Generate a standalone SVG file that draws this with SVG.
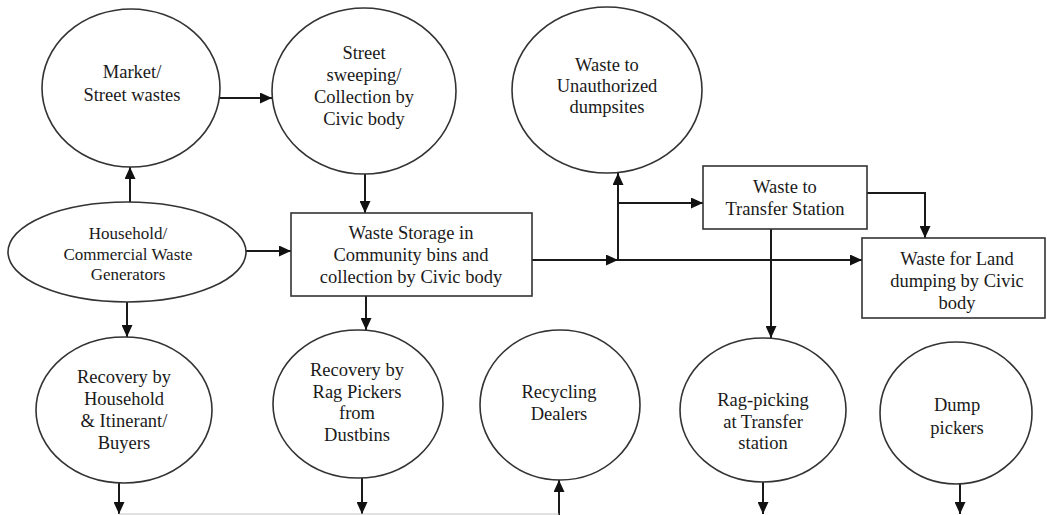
<svg xmlns="http://www.w3.org/2000/svg" width="1047" height="515" viewBox="0 0 1047 515">
<style>
.n{fill:#fff;stroke:#333;stroke-width:1.6}
.t{font-family:"Liberation Serif","Times New Roman","DejaVu Serif",serif;font-size:18.5px;fill:#1a1a1a;text-anchor:middle}
.s{font-size:17px}
.c{fill:none;stroke:#1a1a1a;stroke-width:2}
</style>
<defs>
<marker id="ah" viewBox="0 0 12 11" refX="12" refY="5.5" markerWidth="12" markerHeight="11" markerUnits="userSpaceOnUse" orient="auto">
<path d="M0,0 L12,5.5 L0,11 z" fill="#111"/>
</marker>
</defs>
<rect width="1047" height="515" fill="#fff"/>
<g id="connectors">
<line class="c" x1="220" y1="98" x2="272" y2="98" marker-end="url(#ah)"/>
<line class="c" x1="365" y1="174" x2="365" y2="213" marker-end="url(#ah)"/>
<line class="c" x1="130" y1="202" x2="130" y2="167" marker-end="url(#ah)"/>
<line class="c" x1="246" y1="251" x2="291" y2="251" marker-end="url(#ah)"/>
<line class="c" x1="127" y1="302" x2="127" y2="337" marker-end="url(#ah)"/>
<line class="c" x1="366" y1="296" x2="366" y2="330" marker-end="url(#ah)"/>
<line class="c" x1="532" y1="260" x2="618" y2="260" marker-end="url(#ah)"/>
<line class="c" x1="618" y1="260" x2="862" y2="260" marker-end="url(#ah)"/>
<line class="c" x1="618" y1="260" x2="618" y2="173" marker-end="url(#ah)"/>
<line class="c" x1="618" y1="203" x2="703" y2="203" marker-end="url(#ah)"/>
<polyline class="c" points="867,193 925,193 925,238" marker-end="url(#ah)"/>
<line class="c" x1="771" y1="229" x2="771" y2="338" marker-end="url(#ah)"/>
<line class="c" x1="119" y1="483" x2="119" y2="514" marker-end="url(#ah)"/>
<line class="c" x1="362" y1="478" x2="362" y2="514" marker-end="url(#ah)"/>
<line class="c" x1="559" y1="515" x2="559" y2="480" marker-end="url(#ah)"/>
<line class="c" x1="763" y1="482" x2="763" y2="514" marker-end="url(#ah)"/>
<line class="c" x1="960" y1="484" x2="960" y2="514" marker-end="url(#ah)"/>
<line x1="119" y1="514" x2="559" y2="514" stroke="#c4c4c4" stroke-width="1"/>
</g>
<g id="market">
<ellipse class="n" cx="131" cy="88" rx="89" ry="79"/>
<text class="t" font-family="Liberation Serif, DejaVu Serif, serif"><tspan x="132" y="78">Market/</tspan><tspan x="132" y="101">Street wastes</tspan></text>
</g>
<g id="street">
<ellipse class="n" cx="364" cy="91" rx="92" ry="83"/>
<text class="t" font-family="Liberation Serif, DejaVu Serif, serif"><tspan x="364" y="59">Street</tspan><tspan x="364" y="81">sweeping/</tspan><tspan x="364" y="103">Collection by</tspan><tspan x="364" y="125">Civic body</tspan></text>
</g>
<g id="unauth">
<ellipse class="n" cx="607" cy="90" rx="95" ry="83"/>
<text class="t" font-family="Liberation Serif, DejaVu Serif, serif"><tspan x="607" y="71">Waste to</tspan><tspan x="607" y="92">Unauthorized</tspan><tspan x="607" y="113">dumpsites</tspan></text>
</g>
<g id="household">
<ellipse class="n" cx="127" cy="252" rx="119" ry="50"/>
<text class="t s" font-family="Liberation Serif, DejaVu Serif, serif"><tspan x="128" y="239">Household/</tspan><tspan x="128" y="260">Commercial Waste</tspan><tspan x="128" y="280">Generators</tspan></text>
</g>
<g id="storage">
<rect class="n" x="291" y="213" width="241" height="83"/>
<text class="t" font-family="Liberation Serif, DejaVu Serif, serif"><tspan x="411" y="239">Waste Storage in</tspan><tspan x="411" y="261">Community bins and</tspan><tspan x="411" y="283">collection by Civic body</tspan></text>
</g>
<g id="transfer">
<rect class="n" x="703" y="166" width="164" height="63"/>
<text class="t" font-family="Liberation Serif, DejaVu Serif, serif"><tspan x="785" y="193">Waste to</tspan><tspan x="785" y="215">Transfer Station</tspan></text>
</g>
<g id="land">
<rect class="n" x="862" y="238" width="183" height="80"/>
<text class="t" font-family="Liberation Serif, DejaVu Serif, serif"><tspan x="957" y="265">Waste for Land</tspan><tspan x="957" y="287">dumping by Civic</tspan><tspan x="957" y="309">body</tspan></text>
</g>
<g id="rechh">
<ellipse class="n" cx="124" cy="410" rx="88" ry="73"/>
<text class="t" font-family="Liberation Serif, DejaVu Serif, serif"><tspan x="124" y="383">Recovery by</tspan><tspan x="124" y="405">Household</tspan><tspan x="124" y="427">&amp; Itinerant/</tspan><tspan x="124" y="449">Buyers</tspan></text>
</g>
<g id="ragpickers">
<ellipse class="n" cx="358" cy="404" rx="85" ry="74"/>
<text class="t" font-family="Liberation Serif, DejaVu Serif, serif"><tspan x="357" y="376">Recovery by</tspan><tspan x="357" y="398">Rag Pickers</tspan><tspan x="357" y="419">from</tspan><tspan x="357" y="441">Dustbins</tspan></text>
</g>
<g id="recycling">
<ellipse class="n" cx="560" cy="405" rx="80" ry="75"/>
<text class="t" font-family="Liberation Serif, DejaVu Serif, serif"><tspan x="559" y="398">Recycling</tspan><tspan x="559" y="420">Dealers</tspan></text>
</g>
<g id="ragpicking">
<ellipse class="n" cx="763" cy="410" rx="83" ry="72"/>
<text class="t" font-family="Liberation Serif, DejaVu Serif, serif"><tspan x="763" y="406">Rag-picking</tspan><tspan x="763" y="428">at Transfer</tspan><tspan x="763" y="449">station</tspan></text>
</g>
<g id="dump">
<ellipse class="n" cx="956" cy="413" rx="76" ry="71"/>
<text class="t" font-family="Liberation Serif, DejaVu Serif, serif"><tspan x="957" y="411">Dump</tspan><tspan x="957" y="434">pickers</tspan></text>
</g>
</svg>
